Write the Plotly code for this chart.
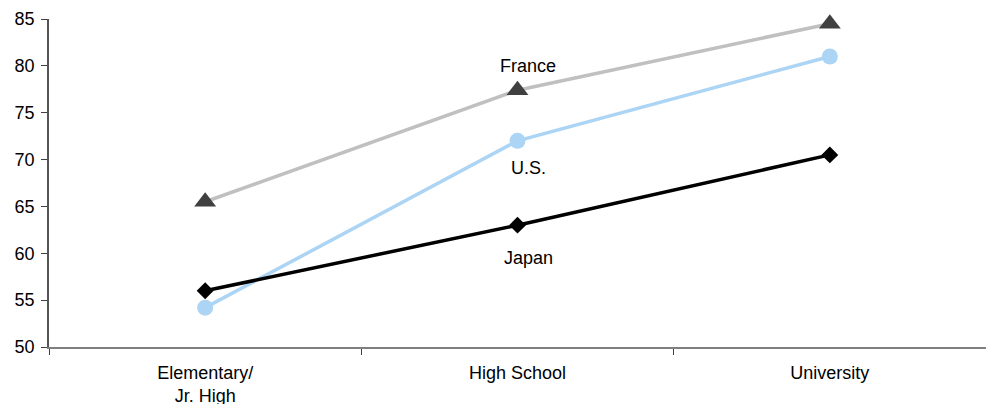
import plotly.graph_objects as go

# School level categories
levels = ["Elementary/<br>Jr. High", "High School", "University"]

# Scores by country
france = [65.5, 77.4, 84.5]
us = [54.2, 72.0, 81.0]
japan = [56.0, 63.0, 70.5]

# Series labels placed beside the High School points
label_texts = ["France", "U.S.", "Japan"]
label_y = [80.0, 69.1, 59.5]

y_ticks = [50, 55, 60, 65, 70, 75, 80, 85]

font_family = "Liberation Sans, Arial, sans-serif"

fig = go.Figure()

fig.add_trace(go.Scatter(
    x=levels, y=france, mode="lines+markers", name="France",
    line=dict(color="#c0c0c0", width=3.5),
    marker=dict(symbol="triangle-up", size=19, color="#404040"),
    cliponaxis=False,
))
fig.add_trace(go.Scatter(
    x=levels, y=us, mode="lines+markers", name="U.S.",
    line=dict(color="#acd4f4", width=3.5),
    marker=dict(symbol="circle", size=16, color="#acd4f4"),
    cliponaxis=False,
))
fig.add_trace(go.Scatter(
    x=levels, y=japan, mode="lines+markers", name="Japan",
    line=dict(color="#000000", width=3.5),
    marker=dict(symbol="diamond", size=13, color="#000000"),
    cliponaxis=False,
))

for txt, yv in zip(label_texts, label_y):
    fig.add_annotation(
        x=1.035, y=yv, xref="x", yref="y", text=txt, showarrow=False,
        font=dict(family=font_family, size=18, color="#000000"),
    )

fig.update_layout(
    width=986, height=404,
    margin=dict(l=49, r=0, t=19, b=57, autoexpand=False),
    paper_bgcolor="#ffffff", plot_bgcolor="#ffffff",
    showlegend=False,
    font=dict(family=font_family, size=18, color="#000000"),
)

fig.update_xaxes(
    type="category", range=[-0.5, 2.5], automargin=False,
    showline=True, linecolor="#7f7f7f", linewidth=2,
    showgrid=False, zeroline=False,
    ticks="outside", tickson="boundaries", ticklen=6, tickwidth=1, tickcolor="#404040",
    tickfont=dict(family=font_family, size=18, color="#000000"),
    ticklabelstandoff=8,
)
fig.update_yaxes(
    range=[50, 85], tickvals=y_ticks, automargin=False,
    showline=True, linecolor="#555555", linewidth=1.5,
    showgrid=False, zeroline=False,
    ticks="outside", ticklen=6, tickwidth=1, tickcolor="#404040",
    tickfont=dict(family=font_family, size=18, color="#000000"),
    ticklabelstandoff=3,
)

fig.write_html("out.html")
